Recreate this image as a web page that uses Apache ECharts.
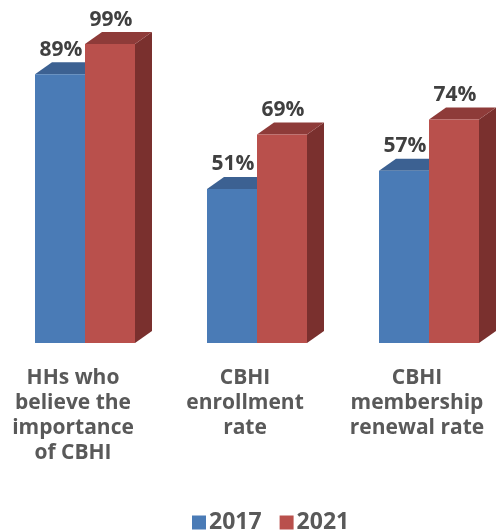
<!DOCTYPE html>
<html><head><meta charset="utf-8">
<script src="https://cdn.jsdelivr.net/npm/echarts@6/dist/echarts.min.js"></script>
<style>html,body{margin:0;padding:0;background:#fff}#c{width:497px;height:530px}</style>
</head><body><div id="c"></div>
<script>
const categories = ["HHs who\nbelieve the\nimportance\nof CBHI", "CBHI\nenrollment\nrate", "CBHI\nmembership\nrenewal rate"];
const seriesNames = ["2017", "2021"];
const values2017 = [89, 51, 57];
const values2021 = [99, 69, 74];

const FONT = '"Open Sans", "DejaVu Sans", sans-serif';
const palette = [
  {front:'#4a7bb6', top:'#3c6192', side:'#34557f'},
  {front:'#b9504c', top:'#8e3b39', side:'#7a302e'}
];
const BAR_W = 50, DX = 17, DY = 12;
const OFFS = [-38, 12];

function makeRender(si){
  const c = palette[si];
  return function(params, api){
    const ci = api.value(0), v = api.value(1);
    const base = api.coord([ci, 0]);
    const top = api.coord([ci, v]);
    const x0 = base[0] + OFFS[si], x1 = x0 + BAR_W;
    const yb = base[1], yt = top[1];
    return {type:'group', children:[
      {type:'polygon', shape:{points:[[x1,yb],[x1+DX,yb-DY],[x1+DX,yt-DY],[x1,yt]]}, style:{fill:c.side}},
      {type:'polygon', shape:{points:[[x0,yt],[x1,yt],[x1+DX,yt-DY],[x0+DX,yt-DY]]}, style:{fill:c.top}},
      {type:'rect', shape:{x:x0, y:yt, width:BAR_W, height:yb-yt}, style:{fill:c.front}},
      {type:'text', x:(x0+x1)/2 + 1, y:yt-DY-2, style:{text:v+'%', fill:'#404040', fontFamily:'"Open Sans", sans-serif', fontWeight:'bold', fontSize:21, align:'center', verticalAlign:'bottom'}}
    ]};
  };
}

const chart = echarts.init(document.getElementById('c'));
chart.setOption({
  animation:false,
  grid:{left:-13, right:-6, top:41, bottom:187, outerBoundsMode:'none', containLabel:false},
  xAxis:{type:'category', data:categories, axisLine:{show:false}, axisTick:{show:false},
    axisLabel:{interval:0, margin:23, color:'#595959', fontSize:21, fontWeight:'bold', fontFamily:FONT, lineHeight:25}},
  yAxis:{type:'value', min:0, max:100, show:false, splitLine:{show:false}},
  legend:{top:506, left:187, icon:'rect', itemWidth:14, itemHeight:14, itemGap:18,
    textStyle:{color:'#595959', fontSize:23, fontWeight:'bold', fontFamily:FONT, padding:[0,0,0,-2]}, data:seriesNames},
  series:[
    {name:seriesNames[0], type:'custom', renderItem:makeRender(0), itemStyle:{color:palette[0].front},
      data:values2017.map((v,i)=>[i,v]), encode:{x:0,y:1}},
    {name:seriesNames[1], type:'custom', renderItem:makeRender(1), itemStyle:{color:palette[1].front},
      data:values2021.map((v,i)=>[i,v]), encode:{x:0,y:1}}
  ]
});
</script></body></html>
